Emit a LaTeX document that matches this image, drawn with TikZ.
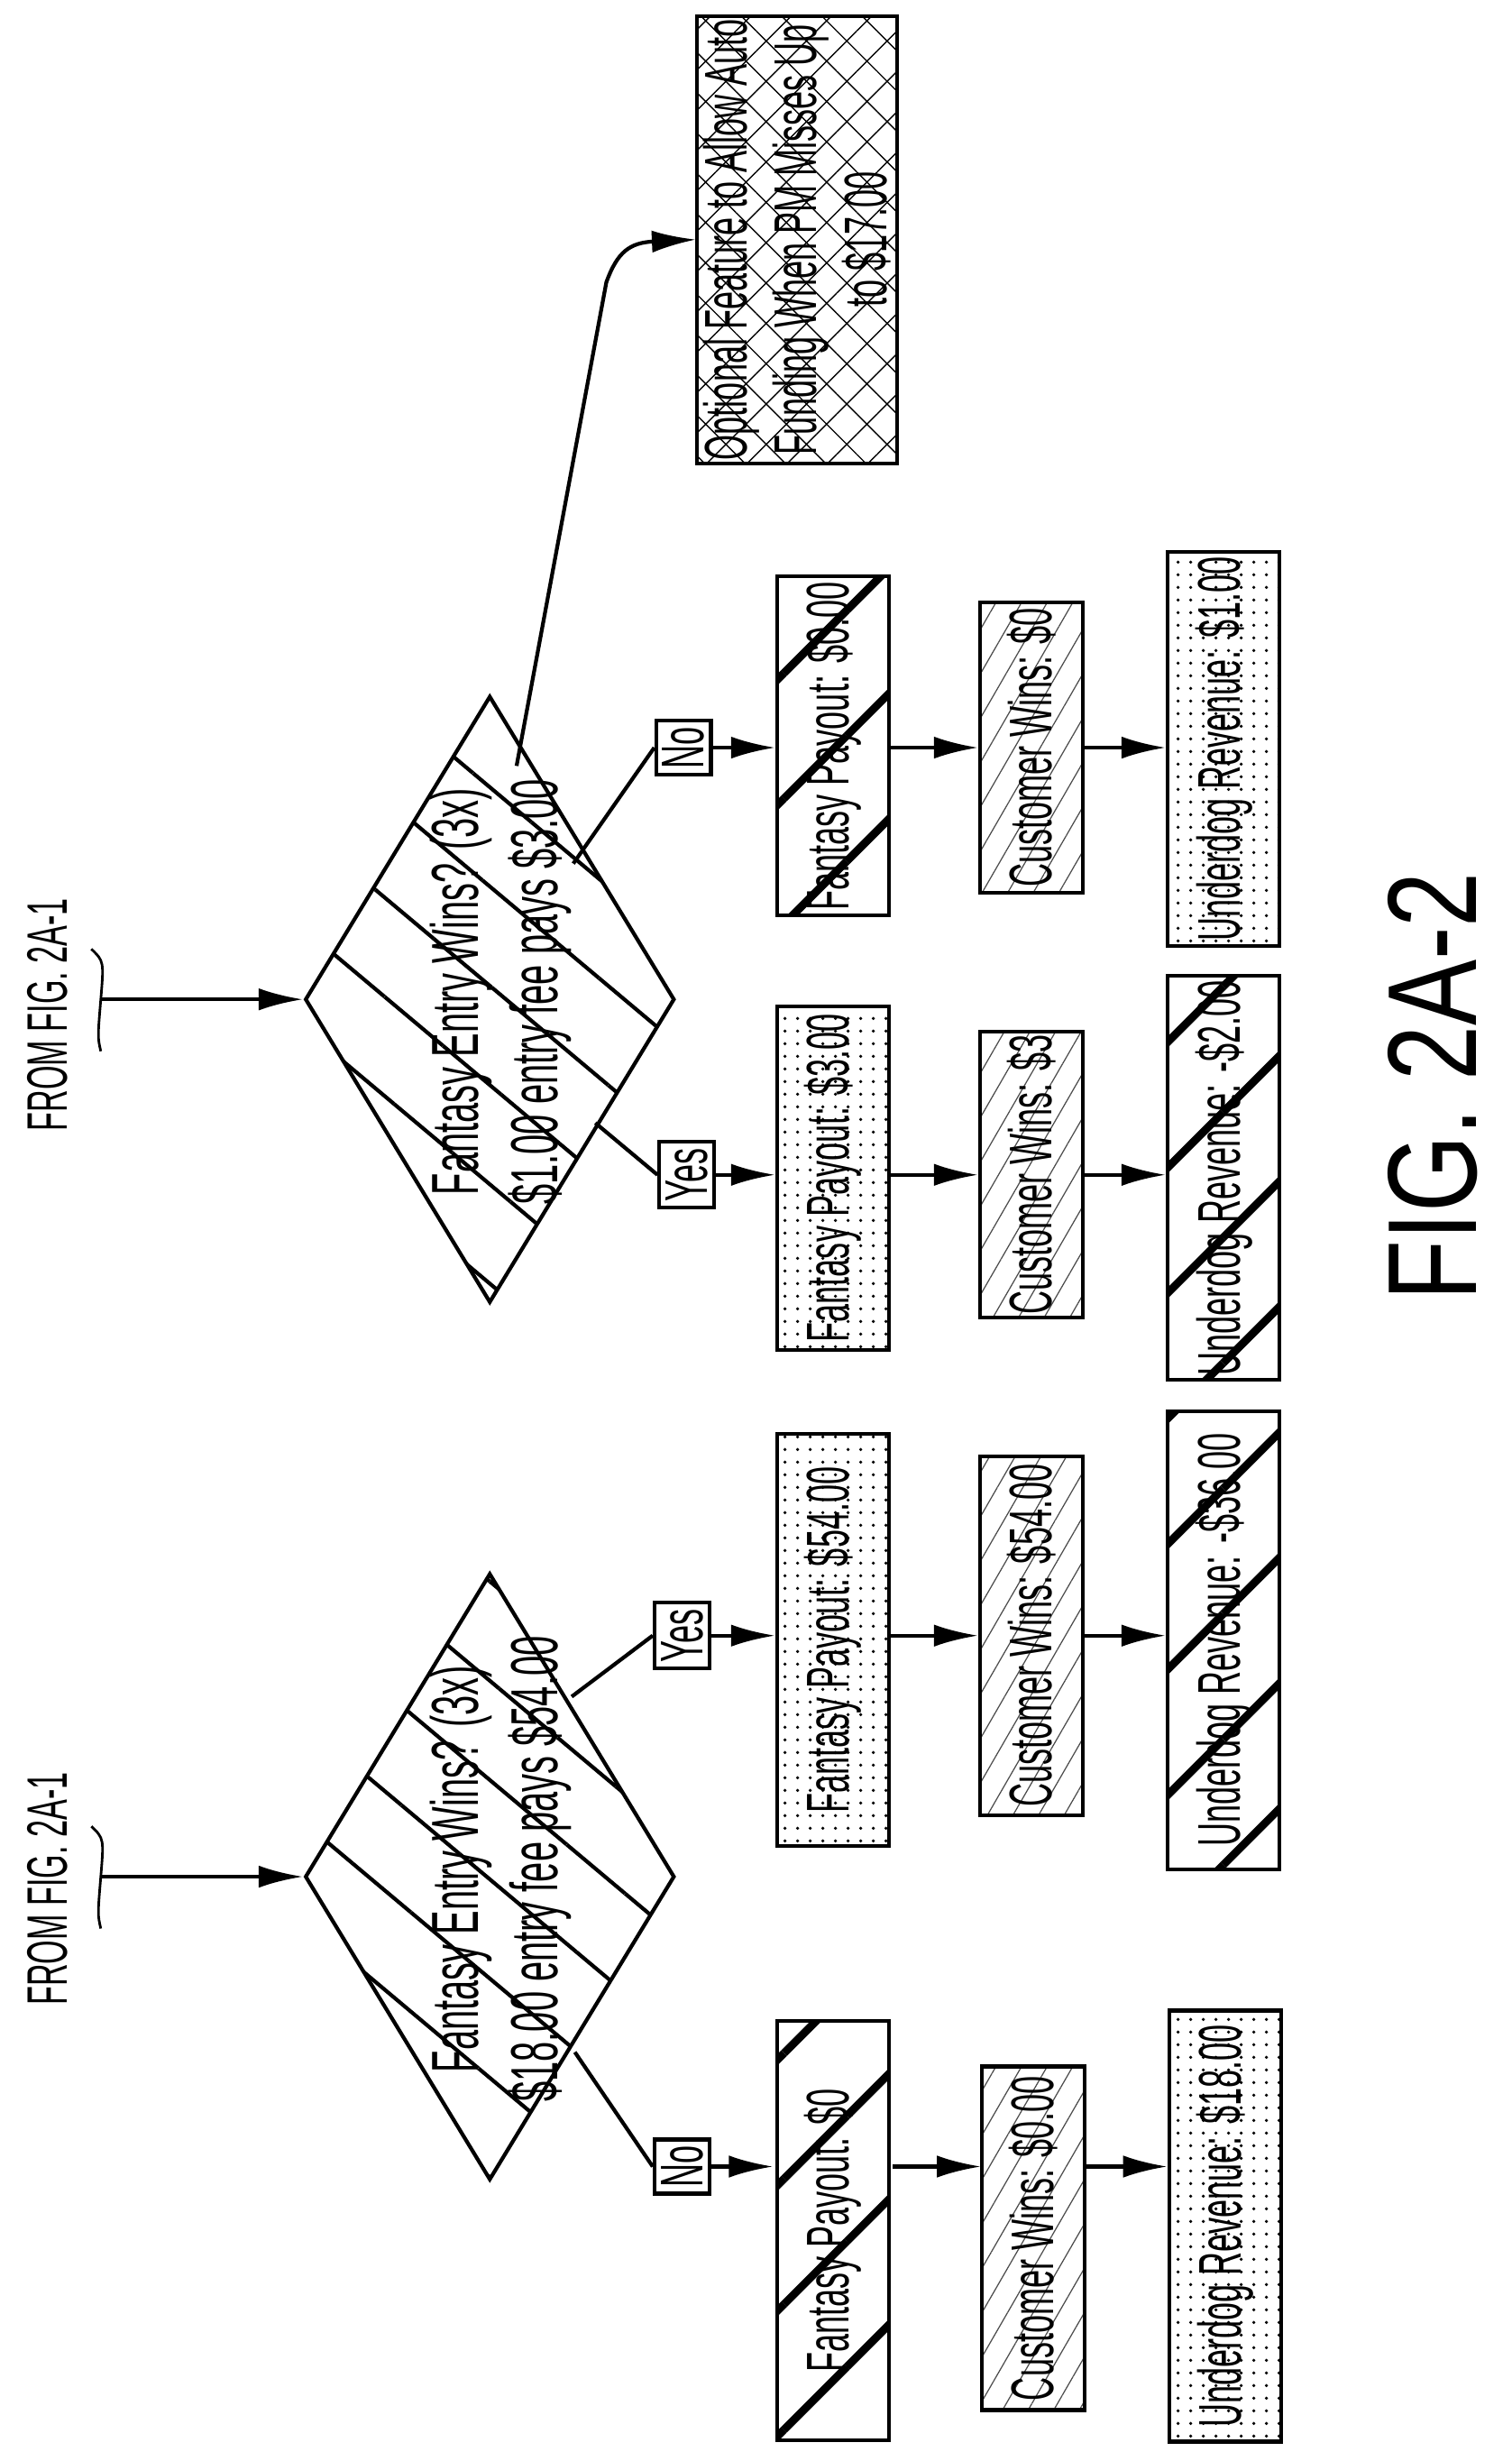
\documentclass[tikz,border=0pt]{standalone}
\usepackage{fontspec}
\setmainfont{Liberation Sans}
\newfontfamily\nar[FakeStretch=0.54]{Liberation Sans}
\newfontfamily\capf[FakeStretch=0.78]{Liberation Sans}
\usetikzlibrary{shapes.geometric,patterns.meta,arrows.meta}
\begin{document}
\begin{tikzpicture}[x=0.01747cm,y=-0.01692cm,
  every node/.style={font=\nar\fontsize{19}{21}\selectfont},
  box/.style={draw,line width=1.2pt,rotate=90,minimum height=1.24cm,inner sep=1pt},
  cbox/.style={draw,line width=1.2pt,rotate=90,minimum height=1.14cm,inner sep=1pt},
  dots/.style={pattern={Dots[distance=4pt,radius=0.55pt]}},
  dashl/.style={pattern={Lines[angle=60,distance=7pt,line width=0.35pt]},pattern color=black!70},
  thick/.style={pattern={Lines[angle=45,distance=28pt,line width=2.5pt]}},
  cross/.style={pattern={Hatch[angle=45,distance=9pt,line width=0.4pt]}},
  dia/.style={draw,line width=1.2pt,diamond,shape aspect=0.55,minimum width=4.1cm,minimum height=6.73cm,inner sep=0pt,
     pattern={Lines[angle=-40,distance=24pt,line width=1.2pt]}},
  lbl/.style={draw,line width=1.2pt,rotate=90,fill=white,inner sep=2pt,font=\nar\fontsize{19}{20}\selectfont},
  arr/.style={line width=1.2pt,-{Latex[length=14pt,width=7pt]}},
  ln/.style={line width=1.2pt}]
\useasboundingbox (0,0) rectangle (960,1613);
% diamonds
\node[dia] (dL) at (311,1230) {};
\node[rotate=90,align=center,font=\nar\fontsize{21}{25}\selectfont] (tL) at (318,1225) {Fantasy Entry Wins? (3x)\\\$18.00 entry fee pays \$54.00};
\node[dia] (dR) at (311,655) {};
\node[rotate=90,align=center,font=\nar\fontsize{21}{25}\selectfont] (tR) at (318,650) {Fantasy Entry Wins? (3x)\\\$1.00 entry fee pays \$3.00};
% FROM labels
\node[rotate=90,font=\nar\fontsize{18}{19}\selectfont] (fromL) at (30,1238) {FROM FIG. 2A-1};
\node[rotate=90,font=\nar\fontsize{18}{19}\selectfont] (fromR) at (30,665) {FROM FIG. 2A-1};
\coordinate (sL) at (64,1230);
\coordinate (sR) at (64,655);
\draw[line width=0.8pt] (58,1197) .. controls (66,1205) .. (64,1230) .. controls (62,1255) .. (64,1264);
\draw[line width=0.8pt] (58,622) .. controls (66,630) .. (64,655) .. controls (62,680) .. (64,689);
\draw[arr] (sL) -- (dL.west);
\draw[arr] (sR) -- (dR.west);
% branch labels
\node[lbl] (nL) at (433,1420) {No};
\node[lbl] (yL) at (433,1072) {Yes};
\node[lbl] (yR) at (436,770) {Yes};
\node[lbl] (nR) at (434,490) {No};
\draw[ln] (365,1345) -- (nL.north);
\draw[ln] (363,1112) -- (yL.north);
\draw[ln] (378,736) -- (yR.north);
\draw[ln] (364,566) -- (nR.north);
% boxes left-No
\node[box,thick,minimum width=4.65cm] (fp1) at (529,1462) {Fantasy Payout: \$0};
\node[cbox,dashl,minimum width=3.81cm] (cw1) at (656,1467) {Customer Wins: \$0.00};
\node[box,dots,minimum width=4.78cm] (ur1) at (778,1459) {Underdog Revenue: \$18.00};
% left-Yes
\node[box,dots,minimum width=4.57cm] (fp2) at (529,1075) {Fantasy Payout: \$54.00};
\node[cbox,dashl,minimum width=3.98cm] (cw2) at (655,1072) {Customer Wins: \$54.00};
\node[box,thick,minimum width=5.08cm] (ur2) at (777,1075) {Underdog Revenue: -\$36.00};
% right-Yes
\node[box,dots,minimum width=3.81cm] (fp3) at (529,772) {Fantasy Payout: \$3.00};
\node[cbox,dashl,minimum width=3.04cm] (cw3) at (655,770) {Customer Wins: \$3};
\node[box,thick,minimum width=4.48cm] (ur3) at (777,772) {Underdog Revenue: -\$2.00};
% right-No
\node[box,thick,minimum width=3.76cm] (fp4) at (529,489) {Fantasy Payout: \$0.00};
\node[cbox,dashl,minimum width=3.22cm] (cw4) at (655,490) {Customer Wins: \$0};
\node[box,dots,minimum width=4.37cm] (ur4) at (777,491) {Underdog Revenue: \$1.00};
% optional
\node[draw,line width=1.2pt,cross,rotate=90,minimum width=4.87cm,minimum height=2.22cm,align=center,inner sep=1pt,font=\nar\fontsize{19}{22}\selectfont] (opt) at (506,157) {Optional Feature to Allow Auto\\Funding When PM Misses Up\\to \$17.00};
% arrows
\foreach \l/\a/\b/\c in {nL/fp1/cw1/ur1, yL/fp2/cw2/ur2, yR/fp3/cw3/ur3, nR/fp4/cw4/ur4}{
  \draw[arr] (\l.south) -- (\l.south -| \a.north);
  \draw[arr] (\a.south |- \l.south) -- (\b.north |- \l.south);
  \draw[arr] (\b.south |- \l.south) -- (\c.north |- \l.south);
}
\coordinate (oc) at (385,185);
\draw[arr] (328,502) -- (oc) .. controls (392,165) and (400,159) .. (opt.north);
% caption
\node[rotate=90,font=\capf\fontsize{40}{44}\selectfont] (cap) at (910,712) {FIG. 2A-2};
\end{tikzpicture}
\end{document}
